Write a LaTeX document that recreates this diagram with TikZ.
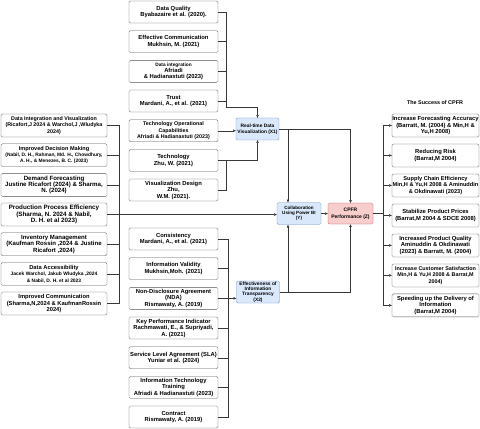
\documentclass[tikz,border=0pt]{standalone}
\usepackage{fontspec}
\setmainfont{Liberation Sans}
\usepackage{xcolor}
\usepackage{tikz}
\usetikzlibrary{arrows.meta, positioning, calc}
\definecolor{boxline}{RGB}{85, 85, 85}
\definecolor{linkgray}{RGB}{55, 55, 55}
\definecolor{varblue}{RGB}{218, 232, 252}
\definecolor{varblueline}{RGB}{108, 142, 191}
\definecolor{cpfrred}{RGB}{248, 206, 204}
\definecolor{cpfrredline}{RGB}{184, 84, 80}

\begin{document}
\begin{tikzpicture}[
    node distance=0.37cm,
    every node/.style={font=\fontsize{8.3}{9.2}\selectfont\bfseries},
    factor/.style={rectangle, draw=boxline, rounded corners=2pt, fill=white, minimum width=4.45cm, minimum height=1.1cm, inner sep=0.5pt, align=center},
    benefit/.style={factor, minimum width=5.3cm, minimum height=1.15cm},
    outcome/.style={factor, minimum width=4.35cm, minimum height=1.15cm, font=\fontsize{8.3}{8.9}\selectfont\bfseries},
    varbox/.style={rectangle, draw=varblueline, fill=varblue, rounded corners=2pt, minimum width=2.15cm, minimum height=1.1cm, inner sep=0.5pt, align=center},
    arrow/.style={-{Triangle[length=1.4mm, width=1.2mm]}, linkgray, line width=0.55pt},
    link/.style={linkgray, line width=0.55pt}
]
\useasboundingbox (0,0) rectangle (24,-21.4);

% Real-time visualization factors
\node[factor] (quality) at (8.675,-0.6) {Data Quality\\Byabazaire et al. (2020).};
\node[factor, below=of quality] (communication) {Effective Communication\\Mukhsin, M. (2021)};
\node[factor, below=of communication] (integration) {{\fontsize{6.8}{8}\selectfont Data integration}\\Afriadi\\\& Hadianastuti (2023)};
\node[factor, below=of integration] (trust) {Trust\\Mardani, A., et al. (2021)};
\node[factor, below=of trust, font=\fontsize{7.6}{9}\selectfont\bfseries] (capability) {Technology Operational\\Capabilities\\Afriadi \& Hadianastuti (2023)};
\node[factor, below=of capability] (technology) {Technology\\Zhu, W. (2021)};
\node[factor, below=of technology] (design) {Visualization Design\\Zhu,\\W.M. (2021).};

% Transparency factors
\node[factor] (consistency) at (8.675,-11.95) {Consistency\\Mardani, A., et al. (2021)};
\node[factor, below=of consistency] (validity) {Information Validity\\Mukhsin,Moh. (2021)};
\node[factor, below=of validity] (nda) {Non-Disclosure Agreement\\(NDA)\\Rismawaty, A. (2019)};
\node[factor, below=of nda] (kpi) {Key Performance Indicator\\Rachmawati, E., \& Supriyadi,\\A. (2021)};
\node[factor, below=of kpi] (sla) {Service Level Agreement (SLA)\\Yuniar et al. (2024)};
\node[factor, below=of sla] (training) {Information Technology\\Training\\Afriadi \& Hadianastuti (2023)};
\node[factor, below=of training] (contract) {Contract\\Rismawaty, A. (2019)};

% Power BI benefits
\node[benefit, font=\fontsize{7.6}{9.4}\selectfont\bfseries] (dataviz) at (2.7,-6.275) {Data Integration and Visualization\\(Ricafort,J 2024 \& Warchol,J ,Wludyka\\2024)};
\node[benefit, below=0.32cm of dataviz, font=\fontsize{6.9}{8.6}\selectfont\bfseries] (decision) {{\fontsize{7.9}{8.6}\selectfont Improved Decision Making}\\(Nabil, D. H., Rahman, Md. H., Chowdhury,\\A. H., \& Menezes, B. C. (2023)};
\node[benefit, below=0.32cm of decision, font=\fontsize{8.7}{9}\selectfont\bfseries] (demand) {Demand Forecasting\\Justine Ricafort (2024) \& Sharma,\\N. (2024)};
\node[benefit, below=0.32cm of demand, font=\fontsize{8.9}{9.4}\selectfont\bfseries] (production) {Production Process Efficiency\\(Sharma, N. 2024 \& Nabil,\\D. H. et al 2023)};
\node[benefit, below=0.32cm of production, font=\fontsize{8.6}{9}\selectfont\bfseries] (inventory) {Inventory Management\\(Kaufman Rossin ,2024 \& Justine\\Ricafort ,2024)};
\node[benefit, below=0.32cm of inventory, font=\fontsize{8.2}{9.2}\selectfont\bfseries] (access) {Data Accessibility\\{\fontsize{7}{9.2}\selectfont Jacek Warchol, Jakub Wludyka ,2024}\\{\fontsize{7}{9.2}\selectfont \& Nabil, D. H. et al 2023}};
\node[benefit, below=0.32cm of access, font=\fontsize{8.2}{9.4}\selectfont\bfseries] (improvedcomm) {Improved Communication\\(Sharma,N,2024 \& KaufmanRossin\\2024)};

% Variables
\node[varbox, font=\fontsize{6.9}{8}\selectfont\bfseries] (x1) at (12.875,-6.45) {Real-time Data\\Visualization (X1)};
\node[varbox, minimum width=2.2cm, font=\fontsize{6.5}{7}\selectfont\bfseries] (collab) at (14.95,-10.68) {Collaboration\\Using Power BI\\(Y)};
\node[varbox, font=\fontsize{6.9}{7.4}\selectfont\bfseries] (x2) at (12.9,-14.6) {Effectiveness of\\Information\\Transparency\\(X2)};
\node[varbox, draw=cpfrredline, fill=cpfrred, minimum width=2.25cm, minimum height=1.05cm, font=\fontsize{7.1}{10}\selectfont\bfseries] (cpfr) at (17.525,-10.68) {CPFR\\Performance (Z)};

% Outcomes
\node[font=\fontsize{7.7}{9}\selectfont\bfseries] (success) at (21.75,-5.15) {The Success of CPFR};
\node[outcome] (accuracy) at (21.775,-6.275) {Increase Forecasting Accuracy\\(Barratt, M. (2004) \& Min,H \&\\Yu,H 2008)};
\node[outcome, below=0.335cm of accuracy] (risk) {Reducing Risk\\(Barrat,M 2004)};
\node[outcome, below=0.335cm of risk, font=\fontsize{8}{8.9}\selectfont\bfseries] (efficiency) {Supply Chain Efficiency\\Min,H \& Yu,H 2008 \& Aminuddin\\\& Okdinawati (2023)};
\node[outcome, below=0.335cm of efficiency] (prices) {Stabilize Product Prices\\(Barrat,M 2004 \& SDCE 2008)};
\node[outcome, below=0.335cm of prices] (productq) {Increased Product Quality\\Aminuddin \& Okdinawati\\(2023) \& Barratt, M. (2004)};
\node[outcome, below=0.335cm of productq, font=\fontsize{7.7}{8.9}\selectfont\bfseries] (satisfaction) {Increase Customer Satisfaction\\Min,H \& Yu,H 2008 \& Barrat,M\\2004)};
\node[outcome, below=0.335cm of satisfaction] (delivery) {Speeding up the Delivery of\\Information\\(Barrat,M 2004)};

% Buses
\coordinate (topjoin) at (11.3,-5.35);
\coordinate (lowbus) at (11.4,0);
\coordinate (leftbus) at (5.95,0);
\coordinate (rightbus) at (19.15,0);
\coordinate (tap) at (14.4,0);

% Arrows into X1
\draw[arrow] (quality.east) -| (topjoin) -| (x1.north);
\foreach \n in {communication, integration, trust}
    \draw[link] (\n.east) -- (\n.east -| topjoin);
\draw[arrow] (capability.east) -- (capability.east -| x1.west);
\draw[arrow] (technology.east) -| (x1.south);
\draw[link] (design.east) -| (technology.east -| topjoin);

% Arrows into X2
\draw[link] (consistency.east) -| (lowbus |- contract.east) -- (contract.east);
\foreach \n in {validity, nda, kpi, sla, training}
    \draw[link] (\n.east) -- (\n.east -| lowbus);
\draw[arrow] (nda.east -| lowbus) -- (nda.east -| x2.west);

% Benefits into Y
\draw[link] (dataviz.east) -| (leftbus |- improvedcomm.east) -- (improvedcomm.east);
\foreach \n in {decision, demand, inventory, access}
    \draw[link] (\n.east) -- (\n.east -| leftbus);
\draw[arrow] (production.east) -- (production.east -| collab.west);

% Model paths
\draw[arrow] (x1.east) -| (cpfr.north);
\draw[arrow] (x1.east -| tap) -- (collab.north -| tap);
\draw[arrow] (x2.east) -| (cpfr.south);
\draw[arrow] (x2.east -| tap) -- (collab.south -| tap);
\draw[arrow] (collab) -- (cpfr);

% Outcomes of CPFR
\draw[link] (cpfr.east) -- (cpfr.east -| rightbus);
\draw[link] (rightbus |- accuracy.west) -- (rightbus |- delivery.west);
\foreach \n in {accuracy, risk, efficiency, prices, productq, satisfaction, delivery}
    \draw[arrow] (rightbus |- \n.west) -- (\n.west);

\end{tikzpicture}
\end{document}
